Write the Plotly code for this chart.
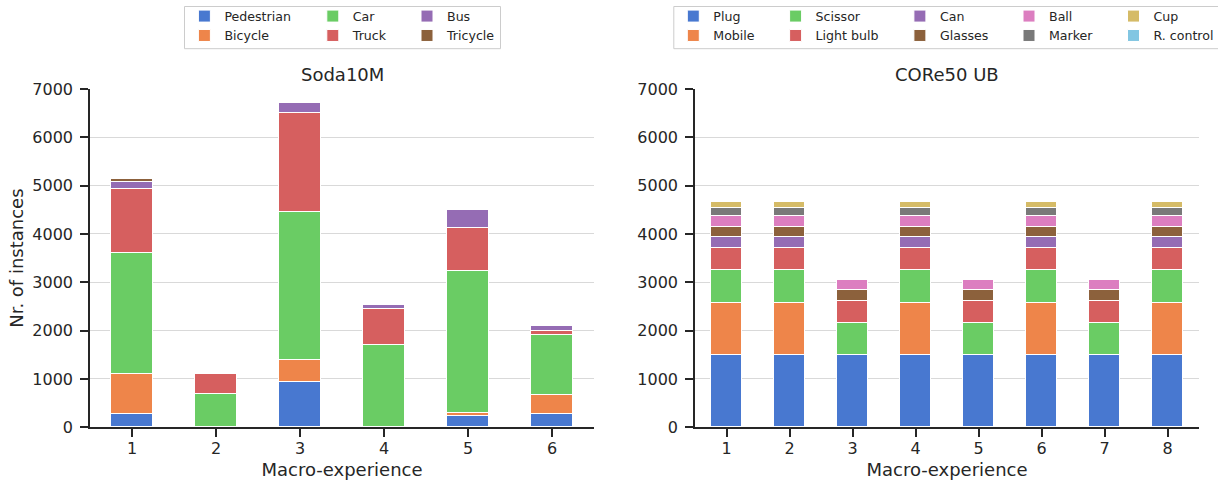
import plotly.graph_objects as go

# ---------------- data ----------------
soda_x = [1, 2, 3, 4, 5, 6]
soda_classes = ["Pedestrian", "Bicycle", "Car", "Truck", "Bus", "Tricycle"]
pedestrian = [276, 0, 945, 0, 228, 276]
bicycle = [827, 0, 455, 0, 75, 400]
car = [2497, 690, 3055, 1703, 2931, 1241]
truck = [1331, 413, 2055, 745, 897, 83]
bus = [152, 0, 193, 90, 359, 90]
tricycle = [48, 0, 0, 0, 0, 0]
soda_values = [pedestrian, bicycle, car, truck, bus, tricycle]

core_x = [1, 2, 3, 4, 5, 6, 7, 8]
core_classes = ["Plug", "Mobile", "Scissor", "Light bulb", "Can", "Glasses",
                "Ball", "Marker", "Cup", "R. control"]
plug = [1500, 1500, 1500, 1500, 1500, 1500, 1500, 1500]
mobile = [1075, 1075, 0, 1075, 0, 1075, 0, 1075]
scissor = [680, 680, 666, 680, 666, 680, 666, 680]
light_bulb = [450, 450, 448, 450, 448, 450, 448, 450]
can = [225, 225, 0, 225, 0, 225, 0, 225]
glasses = [215, 215, 220, 215, 220, 215, 220, 215]
ball = [225, 225, 214, 225, 214, 225, 214, 225]
marker = [160, 160, 0, 160, 0, 160, 0, 160]
cup = [130, 130, 0, 130, 0, 130, 0, 130]
r_control = [0, 0, 0, 0, 0, 0, 0, 0]
core_values = [plug, mobile, scissor, light_bulb, can, glasses, ball, marker, cup, r_control]

y_ticks = [0, 1000, 2000, 3000, 4000, 5000, 6000, 7000]

palette = ["#4878d0", "#ee854a", "#6acc64", "#d65f5f", "#956cb4",
           "#8c613c", "#dc7ec0", "#797979", "#d5bb67", "#82c6e2"]

# ---------------- layout geometry (pixels) ----------------
W, H = 1218, 483
FONT = "DejaVu Sans"
TXT = "#262626"

def px(x):
    return x / W

def py(y):
    return 1 - y / H

left_dom = [px(90), px(594)]
right_dom = [px(695), px(1199)]
y_dom = [py(427.3), py(89)]

fig = go.Figure()

for i, (name, vals) in enumerate(zip(soda_classes, soda_values)):
    leg = "legend" if i // 2 == 0 else "legend%d" % (i // 2 + 1)
    fig.add_trace(go.Bar(
        x=soda_x, y=vals, name=name, width=0.5,
        marker=dict(color=palette[i], line=dict(color="white", width=1)),
        xaxis="x", yaxis="y", legend=leg,
    ))

for i, (name, vals) in enumerate(zip(core_classes, core_values)):
    leg = "legend%d" % (i // 2 + 4)
    fig.add_trace(go.Bar(
        x=core_x, y=vals, name=name, width=0.5,
        marker=dict(color=palette[i], line=dict(color="white", width=1)),
        xaxis="x2", yaxis="y2", legend=leg,
    ))

axis_common = dict(
    showline=True, linecolor=TXT, linewidth=1.5,
    ticks="outside", ticklen=8, tickwidth=1.5, tickcolor=TXT,
    tickfont=dict(family=FONT, size=16, color=TXT),
    zeroline=False, automargin=False,
)

fig.update_layout(
    width=W, height=H, autosize=False,
    margin=dict(l=0, r=0, t=0, b=0, autoexpand=False),
    paper_bgcolor="white", plot_bgcolor="white",
    barmode="stack", bargap=0, hovermode=False,
    font=dict(family=FONT, color=TXT),
    xaxis=dict(domain=left_dom, range=[0.5, 6.5], tickvals=soda_x,
               showgrid=False, anchor="y", ticklabelstandoff=-2,
               title=dict(text="Macro-experience", font=dict(family=FONT, size=18, color=TXT), standoff=6),
               **axis_common),
    yaxis=dict(domain=y_dom, range=[0, 7000], tickvals=y_ticks,
               showgrid=True, gridcolor="#d9d9d9", gridwidth=1, anchor="x",
               ticklabelstandoff=4,
               title=dict(text="Nr. of instances", font=dict(family=FONT, size=18, color=TXT), standoff=4),
               **axis_common),
    xaxis2=dict(domain=right_dom, range=[0.5, 8.5], tickvals=core_x,
                showgrid=False, anchor="y2", ticklabelstandoff=-2,
                title=dict(text="Macro-experience", font=dict(family=FONT, size=18, color=TXT), standoff=6),
                **axis_common),
    yaxis2=dict(domain=y_dom, range=[0, 7000], tickvals=y_ticks,
                showgrid=True, gridcolor="#d9d9d9", gridwidth=1, anchor="x2",
                ticklabelstandoff=4,
                **axis_common),
)

leg_text_x = [225.4, 353.8, 448, 714.3, 816.6, 940.9, 1050, 1154.5]
for k, tx in enumerate(leg_text_x):
    key = "legend" if k == 0 else "legend%d" % (k + 1)
    fig.update_layout(**{key: dict(
        x=px(tx - 41), xanchor="left", y=py(1.4), yanchor="top",
        orientation="v", traceorder="normal", tracegroupgap=0,
        bgcolor="rgba(0,0,0,0)", borderwidth=0, itemwidth=30,
        font=dict(family=FONT, size=12.6, color=TXT),
        itemclick=False, itemdoubleclick=False,
    )})

fig.add_shape(type="rect", xref="paper", yref="paper", layer="below",
              x0=px(184.5), x1=px(500.5), y0=py(48.7), y1=py(6.5),
              line=dict(color="#cccccc", width=1), fillcolor="white")
fig.add_shape(type="rect", xref="paper", yref="paper", layer="below",
              x0=px(673.8), x1=px(1240), y0=py(48.7), y1=py(6.5),
              line=dict(color="#cccccc", width=1), fillcolor="white")

fig.add_annotation(text="Soda10M", x=px(342), y=py(75), xref="paper", yref="paper",
                   showarrow=False, xanchor="center", yanchor="middle",
                   font=dict(family=FONT, size=18, color=TXT))
fig.add_annotation(text="CORe50 UB", x=px(947), y=py(75), xref="paper", yref="paper",
                   showarrow=False, xanchor="center", yanchor="middle",
                   font=dict(family=FONT, size=18, color=TXT))

fig.write_html("out.html",
               config={"displayModeBar": False},
               post_script="document.body.style.margin='0';document.body.style.overflow='hidden';")
